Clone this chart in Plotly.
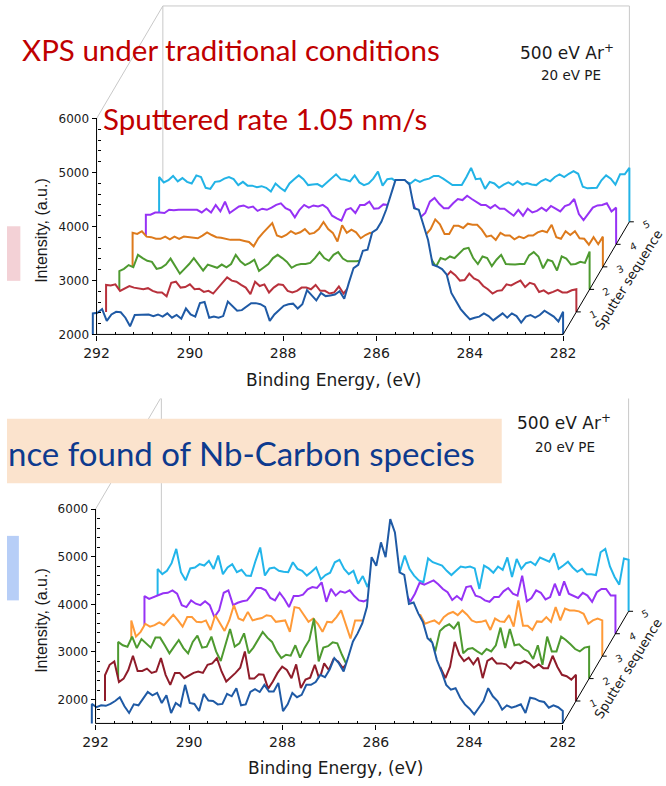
import numpy as np
import plotly.graph_objects as go

W, H = 666, 786

# ---------------- data ----------------
ENERGY_START, ENERGY_END = 292.08, 282.0          # binding energy grid (eV)
X_TICKS = [292, 290, 288, 286, 284, 282]
Y_TICKS = [2000, 3000, 4000, 5000, 6000]
DEPTH_TICKS = [1, 2, 3, 4, 5]
SERIES_NAMES = ["0", "1", "2", "3", "4", "5"]

# top panel (traditional conditions) - intensities (a.u.), one list per sputter step
TOP_BLUE = [2390,2400,2470,2250,2370,2420,2410,2310,2150,2360,2360,2360,2370,2340,2370,2330,2390,2310,2360,2290,
            2480,2370,2330,2580,2600,2310,2330,2310,2340,2610,2530,2440,2450,2510,2580,2580,2560,2510,2250,2370,
            2450,2530,2560,2570,2480,2560,2820,2730,2630,2770,2710,2720,2740,2800,2660,2960,3230,3290,3550,3570,
            3890,3950,4090,4310,4610,4860,4860,4860,4780,4340,4310,4030,3750,3290,3260,3210,3110,2770,2620,2470,
            2370,2280,2310,2330,2390,2340,2260,2330,2390,2310,2390,2340,2220,2330,2360,2310,2360,2440,2390,2330,
            2240,2420]
TOP_RED = [2500,2490,2510,2390,2440,2480,2450,2440,2420,2440,2390,2360,2360,2290,2540,2560,2450,2460,2510,2420,
           2430,2370,2390,2340,2440,2560,2640,2580,2560,2500,2450,2330,2560,2480,2510,2360,2450,2510,
           2500,2390,2360,2390,2450,2450,2420,2500,2390,2390,2340,2360,2470,2340,
           2450,2480,2520,2560,2620,2700,2780,2860,2940,3020,3080,3120,3100,3060,3000,2950,2900,2850,2800,2750,
           2680,2650,
           2750,2680,2580,2590,2710,2620,2580,2480,2420,2340,2390,2400,2510,2490,2540,2580,2460,2540,2510,2370,
           2400,2340,2370,2410,2360,2360,2400,2420]
TOP_GREEN = [2340,2380,2450,2410,2640,2580,2530,2510,2380,2400,2460,2570,2430,2290,2380,2470,2580,2470,2350,2460,
             2430,2400,2460,2410,2470,2640,2520,2450,2490,2550,2340,2400,2470,2580,2640,
             2580,2510,2400,2450,2470,2470,2490,2580,2690,2580,2530,2640,2690,2570,2520,2520,2520,
             2540,2580,2640,2700,2760,2820,2880,2920,2940,2930,2900,2850,2800,2740,2650,2560,2420,
             2580,2550,2610,2580,2670,2750,2770,2580,2470,2610,2580,2430,2550,2640,2470,2460,2460,2470,2470,2630,
             2690,2610,2390,2550,2520,2350,2610,2570,2460,2470,2510,2490,2700]
TOP_ORANGE = [2630,2610,2660,2560,2550,2520,2520,2560,2510,2560,2520,2560,2550,2550,2530,2580,2640,2590,2550,2540,
              2520,2500,2500,2500,2480,2460,2380,2530,2630,2720,2810,2580,
              2550,2590,2660,2610,2640,2700,2610,2630,2700,2830,2700,2630,2470,2770,2630,2690,2640,2530,2590,2630,
              2600,2640,2680,2720,2760,2800,2820,2820,2800,2780,2700,2600,
              2700,2880,2790,2610,2610,2760,2760,
              2720,2800,2780,2780,2690,2560,2580,2500,2630,2580,2580,2510,2560,2530,2580,2580,2640,2670,2640,2780,
              2550,2520,2660,2590,2660,2530,2520,2410,2550,2420,2560]
TOP_PURPLE = [2550,2550,2590,2590,2580,2640,2630,2640,2640,2640,2630,2640,2590,2660,2590,2730,2610,2790,2580,2640,
              2700,2720,2680,2700,2620,2660,2640,2680,2730,
              2760,2670,2630,2500,2640,2730,2680,2720,2700,2730,2670,2530,2480,2440,2640,2670,2580,2730,2730,2790,
              2660,2670,2740,2730,
              2780,2820,2860,2880,2860,2620,2500,
              2580,2790,2860,2750,2670,2670,2760,2840,
              2820,2900,2840,2790,2730,2730,2670,2730,2660,2660,2590,2530,2640,2530,2660,2590,2620,2680,2620,2710,
              2660,2610,2710,2740,2840,2560,2450,2560,2680,2720,2730,2760,2610,2680]
TOP_CYAN = [2830,2730,2770,2850,2750,2810,2740,2710,2860,2830,2630,2610,2740,2750,2800,2830,2790,2680,2740,2670,
            2670,2640,2660,2630,2560,2710,
            2630,2570,2710,2790,2860,2790,2680,2690,2700,2650,2730,2810,2880,2790,2780,2750,2860,2730,2680,2710,
            2800,2930,2670,2790,2800,2740,2720,2740,2710,2780,2740,2780,2800,2850,2850,2800,2740,2680,2680,2680,
            2830,3000,2790,2800,2610,2740,2710,2630,2690,2730,2680,2750,2690,2720,2690,2680,2750,2790,2750,2830,
            2880,2830,2890,2940,2890,2650,2620,2620,2630,2770,2860,2800,2690,2880,2880,3000]

# bottom panel - intensities (a.u.)
BOT_BLUE = [1910,1840,1880,1870,1910,1970,2050,1860,1720,1900,1880,2020,2160,2090,2140,1930,2090,1720,1930,1860,
            2310,1930,1910,1760,2120,1980,1970,1900,1910,2120,2070,2240,1880,1900,2160,2220,2160,2310,2170,2170,
            2350,1760,1900,2140,2050,2100,2310,2310,2370,2520,2470,2630,2870,2760,2590,2900,3220,3390,3600,3950,
            4990,4810,5300,4990,5790,5510,4670,4620,4010,4040,3810,3630,3290,3200,2830,2590,2310,2210,2240,2040,
            1900,1810,1690,1830,1970,2240,2070,1970,1790,1880,1830,1860,1900,1720,2040,2020,1970,1950,1830,1880,
            1840,1760]
BOT_RED = [2040,2260,2330,1900,1970,2150,2450,2130,2130,2180,2090,2120,2400,2050,1840,2090,2090,1980,2040,2090,
           2120,2090,2260,2290,2400,2120,1910,1990,2090,2200,2540,1970,1970,2060,2050,1760,1910,2090,
           2220,2150,1980,2270,1770,1950,1990,2260,1950,2290,2150,2380,2330,2190,
           2300,2350,2400,2450,2520,2600,2680,2760,2820,2850,2830,2780,2720,2650,2580,2520,2460,2400,2300,2100,
           2190,1980,2220,2740,2470,2340,2410,2270,2410,1980,2340,2400,2290,2290,2270,2180,2310,2290,2340,2290,
           2200,2270,2190,2190,2450,2220,2050,2020,1950,2050]
BOT_GREEN = [2270,2200,2170,2380,2140,2330,2240,2150,2360,2360,2200,2030,2170,2310,2140,2030,2270,2400,2150,2170,
             2380,2070,1870,2200,2540,2170,2240,2450,2030,2150,2310,2480,2360,2270,2070,
             1930,2000,1980,2200,1940,2150,2310,2760,1860,2150,2180,2260,2240,2000,1790,
             1950,2050,2150,2250,2350,2450,2520,2580,2600,2580,2540,2500,2450,2400,2350,2300,2250,
             2330,2070,2500,2590,2640,2550,2690,2030,2120,2140,2070,2010,2120,2070,2200,2570,2140,2540,2200,2220,
             2120,2070,1910,2200,1790,2380,2070,2070,2380,2310,2220,2120,2070,2150,2170]
BOT_ORANGE = [2250,1910,2010,2180,2120,2150,2210,2150,2250,2370,2250,2120,2320,2320,2220,2210,2250,2050,2360,2180,
              2030,2250,2570,2290,2250,2430,2250,2280,2300,2360,2340,2220,
              2230,2250,2010,2530,2510,2370,2220,2290,2180,2010,2220,2210,2320,2460,2180,1870,2250,2250,
              2250,2350,2450,2550,2600,2620,2600,2550,2500,2450,2400,2350,
              2360,2180,2220,2250,2180,2320,2390,2430,2360,2460,2370,2250,2210,2220,2250,2050,2290,2230,2220,2360,
              2120,2670,2140,2140,2050,2230,2220,2320,2220,2530,2250,2500,2460,2460,2440,2390,2180,2250,2290,2250]
BOT_PURPLE = [2290,2230,2270,2320,2350,2360,2410,2340,2100,2060,2200,2130,2100,2180,2100,1850,1990,2360,2410,2100,
              2150,2180,2200,2320,2460,2460,2410,2250,2200,
              2360,2230,2060,2290,2290,2320,2430,2480,2460,2580,2170,2440,2300,2390,2360,2410,2290,2200,2180,2220,
              2300,2380,2450,2500,2520,2500,2450,2350,
              2170,2340,2570,2530,2570,2620,2540,2440,2370,2210,2290,2210,
              2480,2500,2300,2270,2200,2170,2270,2270,2390,2460,2340,2300,2720,2180,2250,2410,2360,2220,2270,2550,
              2300,2600,2340,2290,2250,2360,2300,2170,2370,2440,2440,2300,2300]
BOT_CYAN = [2390,2280,2350,2510,2810,2320,2150,2400,2420,2490,2460,2560,2390,2670,2280,2420,2490,2320,2370,2250,
            2240,2560,2840,2250,2400,2420,2350,
            2330,2320,2530,2390,2350,2250,2330,2420,2170,2260,2310,2530,2580,2390,2280,2350,2080,2240,2010,
            2300,2350,2400,2420,2400,2380,
            2350,2670,2390,2250,2150,2110,2610,2530,2490,2460,2350,2260,2350,2440,
            2420,2440,2400,1970,2460,2400,2310,2440,2370,2630,2220,2600,2390,2510,2540,2470,2630,2580,2540,2720,
            2390,2460,2540,2420,2330,2390,2280,2280,2260,2740,2810,2440,2220,2060,2610,2580]

TOP_SERIES = [TOP_BLUE, TOP_RED, TOP_GREEN, TOP_ORANGE, TOP_PURPLE, TOP_CYAN]
BOT_SERIES = [BOT_BLUE, BOT_RED, BOT_GREEN, BOT_ORANGE, BOT_PURPLE, BOT_CYAN]
TOP_COLORS = ["#1f5aa5", "#b8313c", "#4e9a30", "#dd7a1c", "#9632f5", "#22b3e6"]
BOT_COLORS = ["#1f5aa5", "#8f1c2a", "#4e9a30", "#ff9a38", "#9632f5", "#22b5ea"]

CHART_FONT = "DejaVu Sans"
SLIDE_FONT = "Lato"

# ---------------- geometry of the two panels (pixels) ----------------
PANELS = [
    dict(series=TOP_SERIES, colors=TOP_COLORS, xn="x", yn="y",
         x292=90.5, x282=562.0, y2000=337.0, y6000=119.5, ylo=2000, base_py=337.0,
         dom_x=(84, 636), dom_top=3.0, depth_px=(13.4, 22.7)),
    dict(series=BOT_SERIES, colors=BOT_COLORS, xn="x2", yn="y2",
         x292=89.5, x282=561.7, y2000=705.0, y6000=513.0, ylo=1500, base_py=729.0,
         dom_x=(83, 636), dom_top=401.5, depth_px=(13.3, 22.6)),
]


def px(p):
    return p / W


def py(p):
    return 1 - p / H


fig = go.Figure()
layout_axes = {}
annotations = []
shapes = []


def note(text, x, y, size, color="#1a1a1a", family=CHART_FONT, xanchor="center", angle=0, pad=1):
    annotations.append(dict(x=px(x), y=py(y), xref="paper", yref="paper", text=text,
                            showarrow=False, xanchor=xanchor, yanchor="middle", borderpad=pad,
                            textangle=angle, font=dict(family=family, size=size, color=color)))


x_minor = [v for v in np.round(np.arange(282.0, 292.001, 0.4), 2) if v not in X_TICKS]

for idx, P in enumerate(PANELS):
    ppe = (P["x282"] - P["x292"]) / 10.0
    ppi = (P["y2000"] - P["y6000"]) / 4000.0
    ylo = P["ylo"]
    dE = P["depth_px"][0] / ppe
    dI = P["depth_px"][1] / ppi
    xl = 292 + (P["x292"] - P["dom_x"][0]) / ppe
    xr = 282 - (P["dom_x"][1] - P["x282"]) / ppe
    yr_lo = ylo - 1.0 / ppi
    yr_hi = ylo + (P["base_py"] - P["dom_top"]) / ppi
    xa_key = "xaxis" if idx == 0 else "xaxis2"
    ya_key = "yaxis" if idx == 0 else "yaxis2"
    y_minor = [v for v in range(ylo + 100 if ylo % 200 else ylo + 200, 6000, 200) if v not in Y_TICKS]

    layout_axes[xa_key] = dict(
        domain=[px(P["dom_x"][0]), px(P["dom_x"][1])], range=[xl, xr], anchor=P["yn"],
        tickmode="array", tickvals=X_TICKS, ticktext=[str(t) for t in X_TICKS],
        ticks="outside", ticklen=5, tickwidth=1, tickcolor="black",
        tickfont=dict(family=CHART_FONT, size=14, color="#1a1a1a"),
        showgrid=False, zeroline=False, showline=False,
        minor=dict(tickmode="array", tickvals=x_minor, ticks="inside", ticklen=3,
                   tickwidth=1, tickcolor="black", showgrid=False))
    layout_axes[ya_key] = dict(
        domain=[1 - (P["base_py"] + 1) / H, 1 - P["dom_top"] / H], range=[yr_lo, yr_hi],
        anchor="free", position=px(P["x292"]),
        tickmode="array", tickvals=Y_TICKS, ticktext=[str(t) for t in Y_TICKS],
        ticks="outside", ticklen=5, tickwidth=1, tickcolor="black",
        tickfont=dict(family=CHART_FONT, size=12, color="#1a1a1a"),
        showgrid=False, zeroline=False, showline=False,
        minor=dict(tickmode="array", tickvals=y_minor, ticks="inside", ticklen=3,
                   tickwidth=1, tickcolor="black", showgrid=False))

    # back wall (grey)
    top = 6000 + 5 * dI
    fig.add_trace(go.Scatter(
        x=[292, 292 - 5 * dE, 282 - 5 * dE, 282 - 5 * dE, None, 292 - 5 * dE, 292 - 5 * dE],
        y=[6000, top, top, ylo + 5 * dI, None, top, ylo + 5 * dI],
        mode="lines", line=dict(color="#c8c8c8", width=1), hoverinfo="skip",
        xaxis=P["xn"], yaxis=P["yn"]))

    # spectra, back to front, each filled white to hide the ones behind
    for k in range(5, -1, -1):
        vals = np.asarray(P["series"][k], dtype=float)
        energy = np.linspace(ENERGY_START, ENERGY_END, len(vals))
        xs = energy - k * dE
        ys = vals + k * dI
        base = ylo + k * dI
        xp = np.concatenate([[xs[0]], xs, [xs[-1]]])
        yp = np.concatenate([[base], ys, [base]])
        fig.add_trace(go.Scatter(
            x=xp, y=yp, mode="lines", fill="toself", fillcolor="white",
            line=dict(color=P["colors"][k], width=2), name=SERIES_NAMES[k],
            hoverinfo="skip", xaxis=P["xn"], yaxis=P["yn"]))

    # front axes lines + depth axis with its ticks
    ax_x = [292, 282, None, 292, 292, None, 282, 282 - 5 * dE]
    ax_y = [ylo, ylo, None, ylo, 6000, None, ylo, ylo + 5 * dI]
    for k in DEPTH_TICKS:
        ax_x += [None, 282 - k * dE, 282 - k * dE - 4.5 / ppe]
        ax_y += [None, ylo + k * dI, ylo + k * dI]
    fig.add_trace(go.Scatter(x=ax_x, y=ax_y, mode="lines",
                             line=dict(color="black", width=1), hoverinfo="skip",
                             xaxis=P["xn"], yaxis=P["yn"]))
    # depth tick labels (placed in paper space next to each depth tick)
    for k in DEPTH_TICKS:
        lx = P["x282"] + k * P["depth_px"][0] + 17
        ly = P["base_py"] - k * P["depth_px"][1] + 2.5
        note(str(k), lx, ly, 10, color="#222", angle=-25)
    mid_x = P["x282"] + 2.5 * P["depth_px"][0]
    mid_y = P["base_py"] - 2.5 * P["depth_px"][1]
    note("Sputter sequence", mid_x + 33, mid_y + 1.5, 13, angle=-58)

# texts
note("Binding Energy, (eV)", 330, 383, 17)
note("Binding Energy, (eV)", 332, 774, 17)
note("Intensity, (a.u.)", 35, 232, 16, family="Liberation Sans", angle=-90)
note("Intensity, (a.u.)", 35, 625, 16, family="Liberation Sans", angle=-90)
note("500 eV Ar<sup>+</sup>", 566, 52, 17)
note("20 eV PE", 570, 76, 13.5)
note("500 eV Ar<sup>+</sup>", 563, 425, 17)
note("20 eV PE", 564, 450, 13.5)
note("XPS under traditional conditions", 13, 50, 29.5, color="#c00000", family=SLIDE_FONT, xanchor="left")
note("Sputtered rate 1.05 nm/s", 95, 119, 29.5, color="#c00000", family=SLIDE_FONT, xanchor="left")

shapes.append(dict(type="rect", xref="paper", yref="paper", x0=0, x1=px(500), y0=py(487), y1=py(422),
                   fillcolor="#fbe3cd", line=dict(width=0), layer="above"))
shapes.append(dict(type="rect", xref="paper", yref="paper", x0=0, x1=px(13.5), y0=py(283), y1=py(228),
                   fillcolor="#f3d1d6", line=dict(width=0), layer="above"))
shapes.append(dict(type="rect", xref="paper", yref="paper", x0=0, x1=px(12), y0=py(605), y1=py(540),
                   fillcolor="#b7cef7", line=dict(width=0), layer="above"))
note("nce found of Nb-Carbon species", 0, 456, 33, color="#0d3a8e", family=SLIDE_FONT,
     xanchor="left", pad=0)

fig.update_layout(width=W, height=H, margin=dict(l=0, r=0, t=0, b=0),
                  paper_bgcolor="white", plot_bgcolor="rgba(0,0,0,0)", showlegend=False,
                  annotations=annotations, shapes=shapes, **layout_axes)

fig.write_html("out.html")
